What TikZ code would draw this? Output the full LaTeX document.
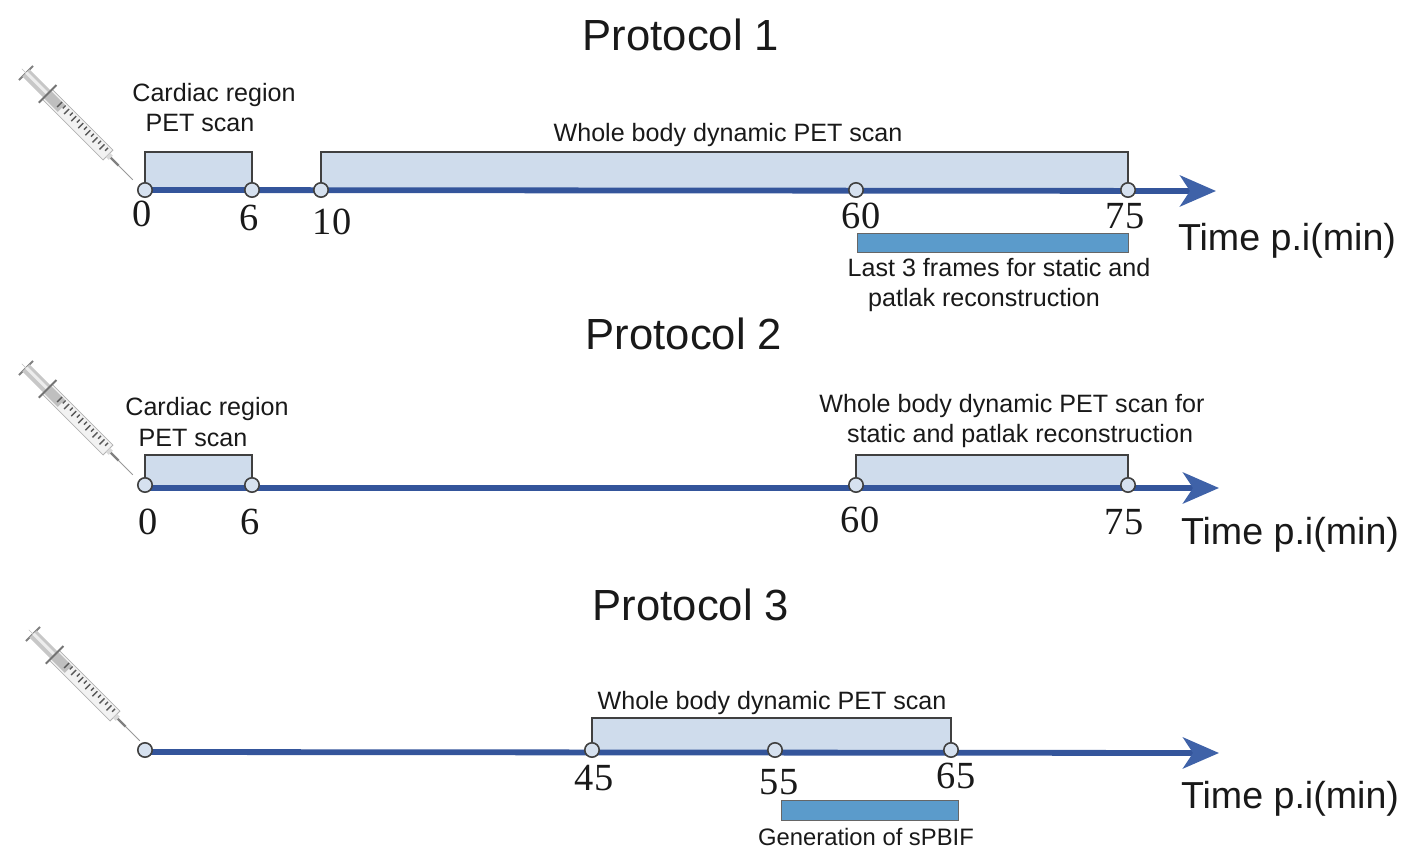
\documentclass[tikz,border=0pt]{standalone}
\usepackage{fontspec}
\setmainfont{Liberation Sans}
\newfontfamily\numfont{Liberation Serif}
\usetikzlibrary{arrows.meta,backgrounds}
\definecolor{axisblue}{HTML}{34559B}
\definecolor{headblue}{HTML}{3F62A8}
\definecolor{bandblue}{HTML}{CFDCEC}
\definecolor{barblue}{HTML}{5B9BCB}
\definecolor{dotblue}{HTML}{D6E1EF}
\tikzset{
  title/.style={anchor=base,font=\fontsize{21.8}{24}\selectfont,text=black!90},
  label/.style={anchor=base,font=\fontsize{12.55}{14}\selectfont,text=black!90},
  timelabel/.style={anchor=base,font=\fontsize{18.8}{21}\selectfont,text=black!90},
  num/.style={font=\fontsize{19.2}{22}\numfont,text=black!90},
  dot/.style={circle,draw=black!75,fill=dotblue,line width=.8pt,minimum size=7.2pt,inner sep=0pt},
  axis/.style={line width=2.9pt,axisblue,-{Stealth[length=18pt,width=15.5pt,inset=5pt,color=headblue]}},
  band/.style={fill=bandblue},
  bracket/.style={draw=black!75,line width=.65pt},
  bar/.style={fill=barblue,draw=black!60,line width=.3pt},
  pics/syringe/.style={code={
    % plunger, barrel, graduations, needle
    \draw[line width=.9pt,black!50] (0,-10)--(0,10);
    \draw[line width=.3pt,black!25] (-6,0)--(0,0);
    \fill[black!22] (0,-5)--(30,-5)--(30,5)--(0,5)--cycle;
    \fill[black!7] (0,-2)--(30,-2)--(30,1)--(0,1)--cycle;
    \fill[black!5] (30,-7)--(116,-7)--(116,7)--(30,7)--cycle;
    \fill[black!25] (30,-5)--(50,-5)--(50,5)--(30,5)--cycle;
    \draw[line width=.4pt,black!30] (30,-7)--(116,-7)--(116,7)--(30,7);
    \draw[line width=1pt,black!55] (30,-13)--(30,12);
    \foreach \u/\w in {46/5,51/2,56/5,61/2,66/5,71/2,76/5,81/2,86/5,91/2,96/5,101/2,106/5,111/2} {\draw[line width=.7pt,black!65] (\u,-5)--(\u,\w-3);}
    \fill[black!15] (116,-3)--(120,-3)--(120,3)--(116,3)--cycle;
    \draw[line width=1.1pt,black!50] (120,0)--(131,0);
    \draw[line width=.4pt,black!40] (131,0)--(151,0);
  }},
}
\begin{document}
\begin{tikzpicture}[x=.5pt,y=-.5pt]
  \useasboundingbox (0,0) rectangle (1417,865);
  % protocol 1
  \node[title] (titleone) at (681,51) {Protocol 1};
  \pic[rotate=-45] at (26,73) {syringe};
  \node[dot] (ona) at (145,190) {};
  \node[dot] (onb) at (252,190) {};
  \node[dot] (onc) at (321,190) {};
  \node[dot] (ond) at (856,190) {};
  \node[dot] (one) at (1128,190) {};
  \coordinate (onetip) at (1216,191);
  \coordinate (onat) at (145,152);
  \coordinate (onbt) at (252,152);
  \coordinate (onct) at (321,152);
  \coordinate (onet) at (1128,152);
  \begin{scope}[on background layer]
    \fill[band] (ona.center) rectangle (onbt);
    \fill[band] (onc.center) rectangle (onet);
    \draw[axis] (ona.center) -- (onetip);
  \end{scope}
  \draw[bracket] (ona.north) -- (onat) -- (onbt) -- (onb.north);
  \draw[bracket] (onc.north) -- (onct) -- (onet) -- (one.north);
  \node[label] (cardone) at (214,102) {Cardiac region};
  \node[label] (petone) at (200,132) {PET scan};
  \node[label] (wholeone) at (728,142) {Whole body dynamic PET scan};
  \node[num] (numa) at (142,214) {0};
  \node[num] (numb) at (249,218) {6};
  \node[num] (numc) at (332,222) {10};
  \node[num] (numd) at (861,216) {60};
  \node[num] (nume) at (1125,216) {75};
  \node[timelabel] (timeone) at (1287,251) {Time p.i(min)};
  \fill[bar] (857,233) rectangle (1128,252);
  \node[label] (lastone) at (999,277) {Last 3 frames for static and};
  \node[label] (lasttwo) at (984,307) {patlak reconstruction};

  % protocol 2
  \node[title] (titletwo) at (684,350) {Protocol 2};
  \pic[rotate=-45] at (26,368) {syringe};
  \node[dot] (twa) at (145,485) {};
  \node[dot] (twb) at (252,485) {};
  \node[dot] (twc) at (856,485) {};
  \node[dot] (twd) at (1128,485) {};
  \coordinate (twotail) at (145,488);
  \coordinate (twotip) at (1219,488);
  \coordinate (twat) at (145,455);
  \coordinate (twbt) at (252,455);
  \coordinate (twct) at (856,455);
  \coordinate (twdt) at (1128,455);
  \begin{scope}[on background layer]
    \fill[band] (twotail) rectangle (twbt);
    \fill[band] (twc.center) rectangle (twdt);
    \draw[axis] (twotail) -- (twotip);
  \end{scope}
  \draw[bracket] (twa.north) -- (twat) -- (twbt) -- (twb.north);
  \draw[bracket] (twc.north) -- (twct) -- (twdt) -- (twd.north);
  \node[label] (cardtwo) at (207,416) {Cardiac region};
  \node[label] (pettwo) at (193,446) {PET scan};
  \node[label] (wholetwo) at (1012,413) {Whole body dynamic PET scan for};
  \node[label] (statictwo) at (1020,443) {static and patlak reconstruction};
  \node[num] (numf) at (148,522) {0};
  \node[num] (numg) at (250,522) {6};
  \node[num] (numh) at (860,520) {60};
  \node[num] (numi) at (1124,522) {75};
  \node[timelabel] (timetwo) at (1290,544) {Time p.i(min)};

  % protocol 3
  \node[title] (titlethree) at (691,620) {Protocol 3};
  \pic[rotate=-45] at (33,634) {syringe};
  \node[dot] (tha) at (145,750) {};
  \node[dot] (thb) at (592,750) {};
  \node[dot] (thc) at (775,750) {};
  \node[dot] (thd) at (951,750) {};
  \coordinate (threetail) at (145,752);
  \coordinate (threetip) at (1219,753);
  \coordinate (thbt) at (592,718);
  \coordinate (thdt) at (951,718);
  \begin{scope}[on background layer]
    \fill[band] (thb.center) rectangle (thdt);
    \draw[axis] (threetail) -- (threetip);
  \end{scope}
  \draw[bracket] (thb.north) -- (thbt) -- (thdt) -- (thd.north);
  \node[label] (wholethree) at (772,709) {Whole body dynamic PET scan};
  \node[num] (numj) at (594,778) {45};
  \node[num] (numk) at (779,782) {55};
  \node[num] (numl) at (956,776) {65};
  \node[timelabel] (timethree) at (1290,808) {Time p.i(min)};
  \fill[bar] (781,800) rectangle (958,820);
  \node[label,font=\fontsize{11.9}{14}\selectfont] (genthree) at (866,845) {Generation of sPBIF};
\end{tikzpicture}
\end{document}
